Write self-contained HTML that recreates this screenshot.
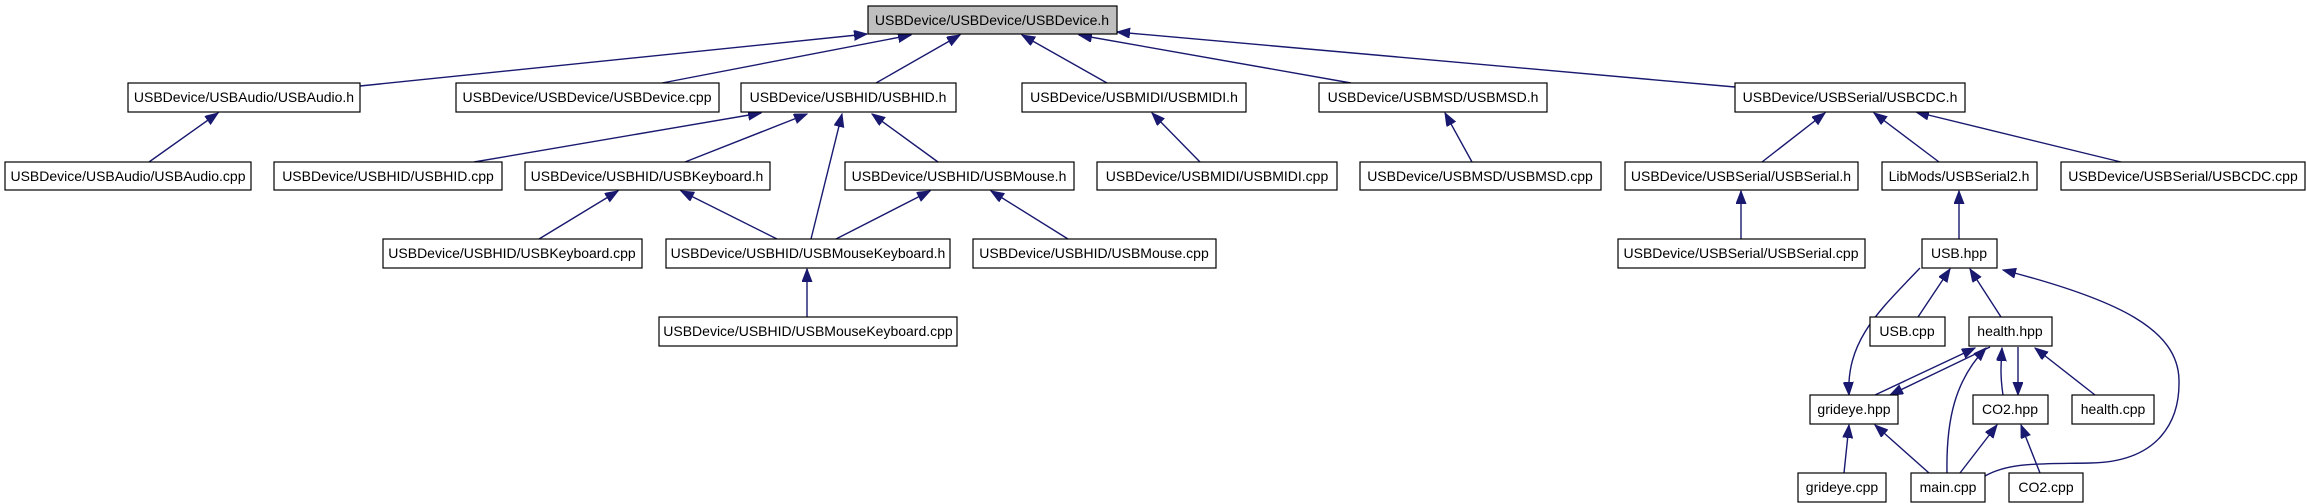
<!DOCTYPE html>
<html><head><meta charset="utf-8"><style>
html,body{margin:0;padding:0;background:#fff;width:2307px;height:504px;overflow:hidden}
svg{display:block}
text{font-family:"Liberation Sans",Arial,sans-serif;font-size:14px;fill:#000}
</style></head><body>
<svg width="2307" height="504" viewBox="0 0 2307 504" xmlns="http://www.w3.org/2000/svg">
<defs>
<marker id="a" markerUnits="userSpaceOnUse" markerWidth="14" markerHeight="12" refX="13" refY="5" orient="auto">
<polygon points="0,0 13,5 0,10" fill="#191970" stroke="#191970"/>
</marker>
</defs>
<g fill="none" stroke="#191970" stroke-width="1.4" marker-end="url(#a)">
<line x1="360" y1="86" x2="867" y2="34"/>
<line x1="662" y1="83" x2="911" y2="35"/>
<line x1="876" y1="83" x2="960" y2="35"/>
<line x1="1107" y1="83" x2="1022" y2="35"/>
<line x1="1351" y1="83" x2="1079" y2="35"/>
<line x1="1735" y1="87" x2="1117" y2="32"/>
<line x1="149" y1="162" x2="218" y2="113"/>
<line x1="474" y1="162" x2="761" y2="113"/>
<line x1="685" y1="162" x2="807" y2="114"/>
<line x1="811" y1="239" x2="842" y2="114"/>
<line x1="938" y1="162" x2="872" y2="114"/>
<line x1="1200" y1="162" x2="1152" y2="113"/>
<line x1="1472" y1="162" x2="1445" y2="113"/>
<line x1="1762" y1="162" x2="1825" y2="113"/>
<line x1="1939" y1="162" x2="1874" y2="113"/>
<line x1="2121" y1="162" x2="1916" y2="112"/>
<line x1="539" y1="239" x2="618" y2="191"/>
<line x1="777" y1="239" x2="681" y2="191"/>
<line x1="836" y1="239" x2="930" y2="191"/>
<line x1="1068" y1="239" x2="991" y2="191"/>
<line x1="1741" y1="239" x2="1741" y2="191"/>
<line x1="1959" y1="239" x2="1959" y2="191"/>
<line x1="807" y1="317" x2="807" y2="269"/>
<line x1="1918" y1="317" x2="1950" y2="269"/>
<line x1="2001" y1="317" x2="1970" y2="269"/>
<path d="M1920,268 C1880,310 1846,340 1849,395"/>
<path d="M1985,476 C2010,462 2040,464 2090,463 C2160,462 2180,420 2179,380 C2178,330 2120,300 2003,270"/>
<line x1="1875" y1="395" x2="1975" y2="348"/>
<line x1="1990" y1="347" x2="1890" y2="395"/>
<path d="M2003,395 C2000,375 2001,365 2002,348"/>
<line x1="2018" y1="347" x2="2018" y2="395"/>
<line x1="2095" y1="395" x2="2035" y2="348"/>
<path d="M1947,473 C1946,420 1955,380 1986,348"/>
<line x1="1844" y1="473" x2="1849" y2="425"/>
<line x1="1929" y1="473" x2="1875" y2="425"/>
<line x1="1960" y1="473" x2="1997" y2="425"/>
<line x1="2040" y1="473" x2="2021" y2="425"/>
</g>
<g stroke="#000" stroke-width="1.2">
<rect x="868" y="6" width="249" height="28" fill="#bfbfbf"/>
<rect x="128" y="83" width="232" height="29" fill="#fff"/>
<rect x="456" y="83" width="263" height="29" fill="#fff"/>
<rect x="741" y="83" width="215" height="29" fill="#fff"/>
<rect x="1022" y="83" width="224" height="29" fill="#fff"/>
<rect x="1319" y="83" width="228" height="29" fill="#fff"/>
<rect x="1735" y="83" width="230" height="29" fill="#fff"/>
<rect x="5" y="162" width="246" height="28" fill="#fff"/>
<rect x="274" y="162" width="228" height="28" fill="#fff"/>
<rect x="525" y="162" width="245" height="28" fill="#fff"/>
<rect x="845" y="162" width="229" height="28" fill="#fff"/>
<rect x="1097" y="162" width="240" height="28" fill="#fff"/>
<rect x="1360" y="162" width="241" height="28" fill="#fff"/>
<rect x="1625" y="162" width="233" height="28" fill="#fff"/>
<rect x="1882" y="162" width="155" height="28" fill="#fff"/>
<rect x="2061" y="162" width="244" height="28" fill="#fff"/>
<rect x="383" y="239" width="259" height="29" fill="#fff"/>
<rect x="666" y="239" width="284" height="29" fill="#fff"/>
<rect x="973" y="239" width="243" height="29" fill="#fff"/>
<rect x="1618" y="239" width="247" height="29" fill="#fff"/>
<rect x="1922" y="239" width="75" height="29" fill="#fff"/>
<rect x="659" y="317" width="298" height="29" fill="#fff"/>
<rect x="1870" y="317" width="75" height="29" fill="#fff"/>
<rect x="1969" y="317" width="83" height="29" fill="#fff"/>
<rect x="1810" y="395" width="88" height="29" fill="#fff"/>
<rect x="1973" y="395" width="75" height="29" fill="#fff"/>
<rect x="2072" y="395" width="82" height="29" fill="#fff"/>
<rect x="1798" y="473" width="88" height="29" fill="#fff"/>
<rect x="1911" y="473" width="74" height="29" fill="#fff"/>
<rect x="2009" y="473" width="74" height="29" fill="#fff"/>
</g>
<g text-anchor="middle">
<text x="992" y="25">USBDevice/USBDevice/USBDevice.h</text>
<text x="244" y="102">USBDevice/USBAudio/USBAudio.h</text>
<text x="587" y="102">USBDevice/USBDevice/USBDevice.cpp</text>
<text x="848" y="102">USBDevice/USBHID/USBHID.h</text>
<text x="1134" y="102">USBDevice/USBMIDI/USBMIDI.h</text>
<text x="1433" y="102">USBDevice/USBMSD/USBMSD.h</text>
<text x="1850" y="102">USBDevice/USBSerial/USBCDC.h</text>
<text x="128" y="181">USBDevice/USBAudio/USBAudio.cpp</text>
<text x="388" y="181">USBDevice/USBHID/USBHID.cpp</text>
<text x="647" y="181">USBDevice/USBHID/USBKeyboard.h</text>
<text x="959" y="181">USBDevice/USBHID/USBMouse.h</text>
<text x="1217" y="181">USBDevice/USBMIDI/USBMIDI.cpp</text>
<text x="1480" y="181">USBDevice/USBMSD/USBMSD.cpp</text>
<text x="1741" y="181">USBDevice/USBSerial/USBSerial.h</text>
<text x="1959" y="181">LibMods/USBSerial2.h</text>
<text x="2183" y="181">USBDevice/USBSerial/USBCDC.cpp</text>
<text x="512" y="258">USBDevice/USBHID/USBKeyboard.cpp</text>
<text x="808" y="258">USBDevice/USBHID/USBMouseKeyboard.h</text>
<text x="1094" y="258">USBDevice/USBHID/USBMouse.cpp</text>
<text x="1741" y="258">USBDevice/USBSerial/USBSerial.cpp</text>
<text x="1959" y="258">USB.hpp</text>
<text x="808" y="336">USBDevice/USBHID/USBMouseKeyboard.cpp</text>
<text x="1907" y="336">USB.cpp</text>
<text x="2010" y="336">health.hpp</text>
<text x="1854" y="414">grideye.hpp</text>
<text x="2010" y="414">CO2.hpp</text>
<text x="2113" y="414">health.cpp</text>
<text x="1842" y="492">grideye.cpp</text>
<text x="1948" y="492">main.cpp</text>
<text x="2046" y="492">CO2.cpp</text>
</g>
</svg>
</body></html>
